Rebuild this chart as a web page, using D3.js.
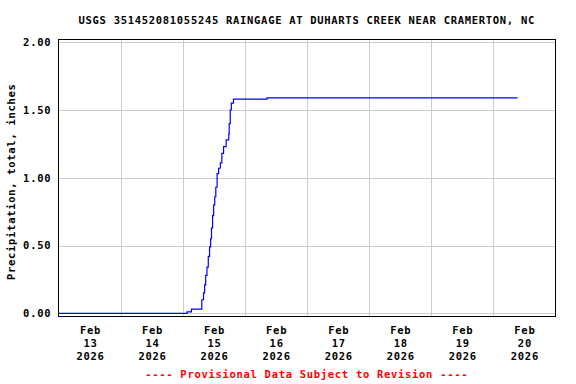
<!DOCTYPE html>
<html>
<head>
<meta charset="utf-8">
<script src="https://cdn.jsdelivr.net/npm/d3@7"></script>
<style>
  html, body { margin: 0; padding: 0; background: #fff; }
  svg { display: block; }
  text { font-family: "DejaVu Sans Mono", monospace; font-weight: bold; font-size: 10.5px; letter-spacing: 0.7px; }
</style>
</head>
<body>
<svg id="chart" width="576" height="384"></svg>
<script>
const titleText = "USGS 351452081055245 RAINGAGE AT DUHARTS CREEK NEAR CRAMERTON, NC";
const yLabel = "Precipitation, total, inches";
const footerText = "---- Provisional Data Subject to Revision ----";

// time of step (local), cumulative precipitation (inches)
const times = [
  "2026-02-13T00:00", "2026-02-15T01:45", "2026-02-15T03:25", "2026-02-15T07:25",
  "2026-02-15T08:05", "2026-02-15T08:30", "2026-02-15T08:55", "2026-02-15T09:25",
  "2026-02-15T09:55", "2026-02-15T10:25", "2026-02-15T10:50", "2026-02-15T11:10",
  "2026-02-15T11:35", "2026-02-15T12:00", "2026-02-15T12:25", "2026-02-15T12:50",
  "2026-02-15T13:20", "2026-02-15T13:55", "2026-02-15T14:35", "2026-02-15T15:10",
  "2026-02-15T15:50", "2026-02-15T16:50", "2026-02-15T17:50", "2026-02-15T18:00",
  "2026-02-15T18:25", "2026-02-15T18:50", "2026-02-15T19:40", "2026-02-16T08:40",
  "2026-02-20T09:30"
];
const values = [
  0.00, 0.01, 0.03, 0.10,
  0.15, 0.21, 0.28, 0.34,
  0.42, 0.49, 0.55, 0.63,
  0.72, 0.80, 0.86, 0.93,
  1.03, 1.07, 1.11, 1.18,
  1.23, 1.28, 1.32, 1.40,
  1.50, 1.55, 1.58, 1.59,
  1.59
];

const yTicks = [0, 0.5, 1.0, 1.5, 2.0];
const dayTicks = ["2026-02-13", "2026-02-14", "2026-02-15", "2026-02-16", "2026-02-17", "2026-02-18", "2026-02-19", "2026-02-20", "2026-02-21"];
const dayLabelMonth = ["Feb", "Feb", "Feb", "Feb", "Feb", "Feb", "Feb", "Feb"];
const dayLabelDay = ["13", "14", "15", "16", "17", "18", "19", "20"];
const dayLabelYear = ["2026", "2026", "2026", "2026", "2026", "2026", "2026", "2026"];

const parseT = d3.timeParse("%Y-%m-%dT%H:%M");
const parseD = d3.timeParse("%Y-%m-%d");
const data = times.map((t, i) => ({ t: parseT(t), v: values[i] }));
const days = dayTicks.map(parseD);

const L = 58.5, R = 555, T = 39.5, B = 316;
const svg = d3.select("#chart");

const x = d3.scaleTime().domain([days[0], days[days.length - 1]]).range([L, R]);
const y = d3.scaleLinear().domain([-0.02, 2.02]).range([B, T]);

// horizontal grid + y labels
const yAxis = d3.axisLeft(y).tickValues(yTicks).tickSize(-(R - L)).tickPadding(8).tickFormat(d3.format(".2f"));
const gy = svg.append("g").attr("transform", `translate(${L},0)`).call(yAxis);
gy.select(".domain").remove();
gy.selectAll("line").attr("stroke", "#cccccc").attr("shape-rendering", "crispEdges");
gy.selectAll("text").attr("fill", "#000").style("font-size", "10.5px").attr("dx", "0.7");

// vertical grid at midnights
const inner = days.slice(1, days.length - 1);
const xGrid = d3.axisBottom(x).tickValues(inner).tickSize(-(B - T)).tickFormat("");
const gx = svg.append("g").attr("transform", `translate(0,${B})`).call(xGrid);
gx.select(".domain").remove();
gx.selectAll("line").attr("stroke", "#cccccc").attr("shape-rendering", "crispEdges");

// day labels at noon
const noons = days.slice(0, days.length - 1).map(d => d3.timeHour.offset(d, 12));
const xLab = d3.axisBottom(x).tickValues(noons).tickSize(0).tickFormat("");
const gl = svg.append("g").attr("transform", `translate(0,${B})`).call(xLab);
gl.select(".domain").remove();
gl.selectAll(".tick").each(function(d, i) {
  const t = d3.select(this).append("text").attr("fill", "#000").attr("text-anchor", "middle");
  [dayLabelMonth[i], dayLabelDay[i], dayLabelYear[i]].forEach((s, k) => {
    t.append("tspan").attr("x", 0.4).attr("y", 18 + k * 13).text(s);
  });
});

// data line
const line = d3.line().x(d => x(d.t)).y(d => y(d.v)).curve(d3.curveStepAfter);
svg.append("path").datum(data).attr("d", line)
  .attr("fill", "none").attr("stroke", "#0000ff").attr("stroke-width", 1.2);

// frame
svg.append("rect").attr("x", L).attr("y", T).attr("width", R - L).attr("height", B - T)
  .attr("fill", "none").attr("stroke", "#000").attr("stroke-width", 1).attr("shape-rendering", "crispEdges");

// title
svg.append("text").attr("x", (L + R) / 2).attr("y", 24).attr("text-anchor", "middle").attr("fill", "#000").text(titleText);

// y label
svg.append("text").attr("transform", `translate(15,${(T + B) / 2 + 4}) rotate(-90)`).attr("text-anchor", "middle").attr("fill", "#000").text(yLabel);

// footer
svg.append("text").attr("x", (L + R) / 2).attr("y", 378).attr("text-anchor", "middle").attr("fill", "#ff0000").text(footerText);
</script>
</body>
</html>
